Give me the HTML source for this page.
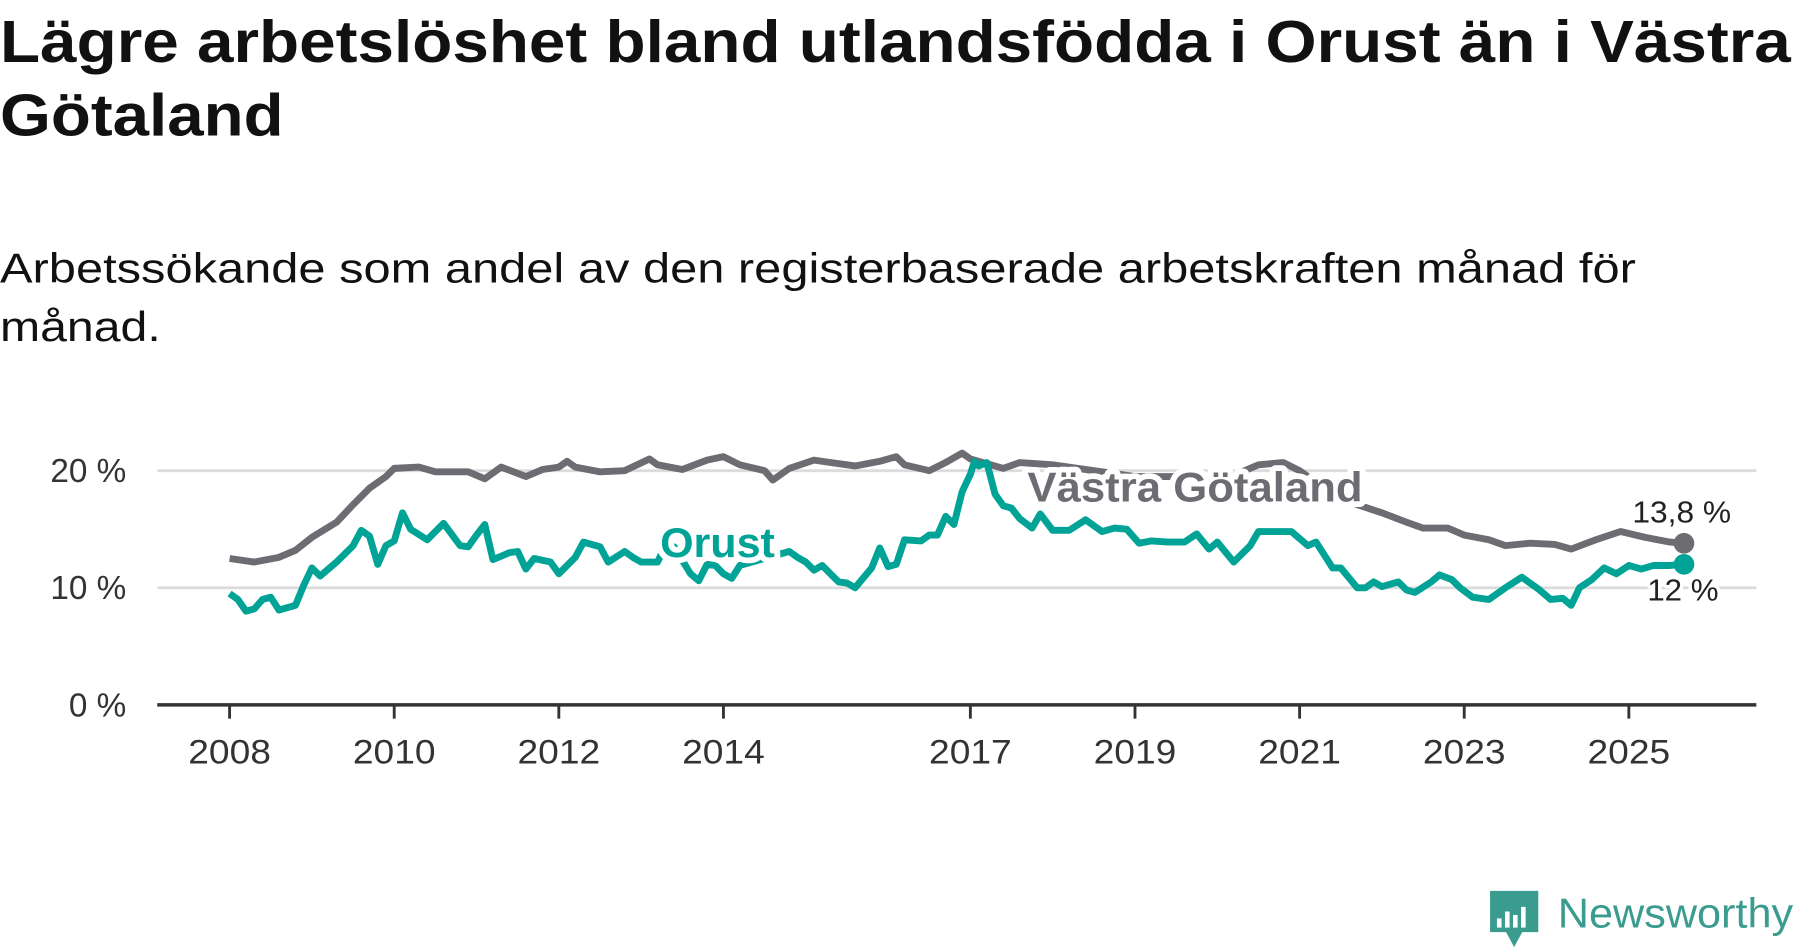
<!DOCTYPE html>
<html><head><meta charset="utf-8"><style>
html,body{margin:0;padding:0;background:#fff;}
svg{display:block;font-family:"Liberation Sans",sans-serif;}
</style></head><body>
<svg id="chart" width="1800" height="948" viewBox="0 0 1568 825.8" preserveAspectRatio="none" xmlns="http://www.w3.org/2000/svg">
<text x="0" y="54" font-size="52" font-weight="bold" fill="#111" textLength="1560" lengthAdjust="spacingAndGlyphs">Lägre arbetslöshet bland utlandsfödda i Orust än i Västra</text>
<text x="0" y="118" font-size="52" font-weight="bold" fill="#111" textLength="247" lengthAdjust="spacingAndGlyphs">Götaland</text>
<text x="0" y="246" font-size="36" fill="#111" textLength="1425" lengthAdjust="spacingAndGlyphs">Arbetssökande som andel av den registerbaserade arbetskraften månad för</text>
<text x="0" y="297" font-size="36" fill="#111" textLength="140" lengthAdjust="spacingAndGlyphs">månad.</text>
<g id="grid"></g>
<g id="series"></g>
<g id="axes"></g>
<g id="labels"></g>
<g>
<path d="M1298 776 H1340 V812 H1326 L1319 825 L1312 812 H1298 Z" fill="#3a9b8f"/>
<rect x="1304" y="800" width="4" height="8" fill="#fff"/><rect x="1311" y="794" width="4" height="14" fill="#fff"/><rect x="1318" y="797" width="4" height="11" fill="#fff"/><rect x="1325" y="790" width="4" height="18" fill="#fff"/>
<text x="1357" y="808" font-size="36" fill="#3a9b8f" textLength="205" lengthAdjust="spacingAndGlyphs">Newsworthy</text>
</g>
</svg>
<script>
const yTicks = [0, 10, 20];
const yTickLabels = ["0 %", "10 %", "20 %"];
const xTicks = [2008, 2010, 2012, 2014, 2017, 2019, 2021, 2023, 2025];
const vgDates = [2008.0,2008.3,2008.6,2008.8,2009.0,2009.3,2009.5,2009.7,2009.9,2010.0,2010.3,2010.5,2010.9,2011.1,2011.3,2011.6,2011.8,2012.0,2012.1,2012.2,2012.5,2012.8,2013.1,2013.2,2013.5,2013.8,2014.0,2014.2,2014.5,2014.6,2014.8,2015.1,2015.3,2015.6,2015.9,2016.1,2016.2,2016.5,2016.7,2016.9,2017.0,2017.2,2017.4,2017.6,2018.0,2018.5,2019.0,2019.5,2020.0,2020.5,2020.8,2021.0,2021.3,2021.7,2022.0,2022.3,2022.5,2022.8,2023.0,2023.3,2023.5,2023.8,2024.1,2024.3,2024.6,2024.9,2025.2,2025.5,2025.67];
const vgValues = [12.5,12.2,12.6,13.2,14.3,15.6,17.1,18.5,19.5,20.2,20.3,19.9,19.9,19.3,20.3,19.5,20.1,20.3,20.8,20.3,19.9,20.0,21.0,20.5,20.1,20.9,21.2,20.5,20.0,19.2,20.2,20.9,20.7,20.4,20.8,21.2,20.5,20.0,20.7,21.5,21.0,20.6,20.2,20.7,20.5,20.0,19.5,19.5,19.0,20.5,20.7,20.0,18.5,17.1,16.4,15.6,15.1,15.1,14.5,14.1,13.6,13.8,13.7,13.3,14.1,14.8,14.3,13.9,13.8];
const orDates = [2008.0,2008.1,2008.2,2008.3,2008.4,2008.5,2008.6,2008.8,2008.9,2009.0,2009.1,2009.3,2009.5,2009.6,2009.7,2009.8,2009.9,2010.0,2010.1,2010.2,2010.4,2010.6,2010.8,2010.9,2011.0,2011.1,2011.2,2011.4,2011.5,2011.6,2011.7,2011.9,2012.0,2012.2,2012.3,2012.5,2012.6,2012.8,2012.9,2013.0,2013.2,2013.3,2013.4,2013.6,2013.7,2013.8,2013.9,2014.0,2014.1,2014.2,2014.5,2014.8,2014.9,2015.0,2015.1,2015.2,2015.3,2015.4,2015.5,2015.6,2015.8,2015.9,2016.0,2016.1,2016.2,2016.4,2016.5,2016.6,2016.7,2016.8,2016.9,2017.0,2017.05,2017.1,2017.2,2017.3,2017.4,2017.5,2017.6,2017.75,2017.85,2018.0,2018.2,2018.4,2018.6,2018.75,2018.9,2019.05,2019.2,2019.4,2019.6,2019.75,2019.9,2020.0,2020.2,2020.4,2020.5,2020.7,2020.9,2021.1,2021.2,2021.4,2021.5,2021.7,2021.8,2021.9,2022.0,2022.2,2022.3,2022.4,2022.6,2022.7,2022.85,2022.95,2023.1,2023.3,2023.5,2023.7,2023.9,2024.05,2024.2,2024.3,2024.4,2024.55,2024.7,2024.85,2025.0,2025.15,2025.3,2025.5,2025.67];
const orValues = [9.5,9.0,8.0,8.2,9.0,9.2,8.1,8.5,10.2,11.7,11.0,12.2,13.6,14.9,14.4,12.0,13.6,14.0,16.4,15.0,14.1,15.5,13.6,13.5,14.5,15.4,12.4,13.0,13.1,11.6,12.5,12.2,11.2,12.6,13.9,13.5,12.2,13.1,12.6,12.2,12.2,13.7,13.5,11.2,10.6,12.0,11.9,11.2,10.8,11.9,12.5,13.1,12.6,12.2,11.5,11.9,11.2,10.5,10.4,10.0,11.7,13.4,11.8,12.0,14.1,14.0,14.5,14.5,16.1,15.4,18.2,19.7,20.8,20.4,20.7,18.0,17.0,16.8,15.9,15.1,16.3,14.9,14.9,15.8,14.8,15.1,15.0,13.8,14.0,13.9,13.9,14.6,13.3,13.9,12.2,13.6,14.8,14.8,14.8,13.6,13.9,11.7,11.7,10.0,10.0,10.5,10.1,10.5,9.8,9.6,10.5,11.1,10.7,10.0,9.2,9.0,10.0,10.9,9.9,9.0,9.1,8.5,10.0,10.7,11.7,11.2,11.9,11.6,11.9,11.9,12.0];

const NS = "http://www.w3.org/2000/svg";
const X0 = 137, X1 = 1530;
function xs(t){ return 200 + (t - 2008) * 71.7; }
function ys(v){ return 614 - v * 10.2; }
function mk(tag, attrs, parent){ const e=document.createElementNS(NS,tag); for(const k in attrs) e.setAttribute(k,attrs[k]); parent.appendChild(e); return e; }
const grid=document.getElementById('grid'), series=document.getElementById('series'), axes=document.getElementById('axes'), labels=document.getElementById('labels');

yTicks.forEach((v,i)=>{
  if(v>0){
    const g=mk('line',{x1:X0,x2:X1,y1:ys(v),y2:ys(v),stroke:'#dcdcdc','stroke-width':2.5},grid);
    
    
  }
  const t=mk('text',{x:110,y:ys(v)+10,'text-anchor':'end','font-size':29,fill:'#333'},axes);
  t.textContent=yTickLabels[i];
  
  
});
const ax=mk('line',{x1:X0,x2:X1,y1:ys(0),y2:ys(0),stroke:'#333','stroke-width':3},axes);


xTicks.forEach(yr=>{
  const tk=mk('line',{x1:xs(yr),x2:xs(yr),y1:ys(0),y2:ys(0)+12,stroke:'#333','stroke-width':2.5},axes);
  
  
  const t=mk('text',{x:xs(yr),y:665,'text-anchor':'middle','font-size':30,fill:'#333',textLength:72,lengthAdjust:'spacingAndGlyphs'},axes);
  t.textContent=String(yr);
  
  
});

function pathD(d,v){ return d.map((t,i)=>(i?'L':'M')+xs(t).toFixed(1)+' '+ys(v[i]).toFixed(1)).join(' '); }
const vg=mk('path',{d:pathD(vgDates,vgValues),fill:'none',stroke:'#6e6c73','stroke-width':6,'stroke-linejoin':'round'},series);


const or=mk('path',{d:pathD(orDates,orValues),fill:'none',stroke:'#00a396','stroke-width':6,'stroke-linejoin':'round'},series);


const vgEnd=mk('circle',{cx:xs(vgDates[vgDates.length-1]),cy:ys(vgValues[vgValues.length-1]),r:9,fill:'#6e6c73'},series);


const orEnd=mk('circle',{cx:xs(orDates[orDates.length-1]),cy:ys(orValues[orValues.length-1]),r:9,fill:'#00a396'},series);



function lab(txt,x,y,size,color,bold,len){
  const a={x:x,y:y,'font-size':size,fill:color,'font-weight':bold?'bold':'normal',stroke:'#fff','stroke-width':bold?10:6,'paint-order':'stroke','stroke-linejoin':'round'};
  if(len){a.textLength=len;a.lengthAdjust='spacingAndGlyphs';}
  const t=mk('text',a,labels);
  t.textContent=txt;
  return t;
}
const l1=lab('Västra Götaland',895,437,36,'#6e6c73',true,292);


const l2=lab('Orust',575,485,36,'#00a396',true,100);


const l3=lab('13,8 %',1422,455,27,'#222',false,86);


const l4=lab('12 %',1435,523,27,'#222',false,62);


</script>
</body></html>
